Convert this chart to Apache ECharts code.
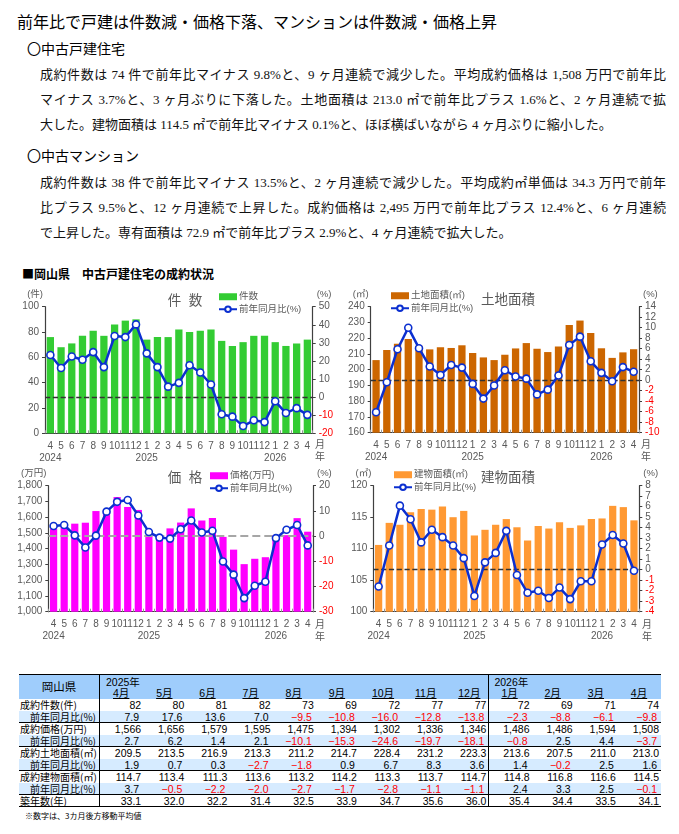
<!DOCTYPE html>
<html><head><meta charset="utf-8">
<script src="https://cdn.jsdelivr.net/npm/echarts@6/dist/echarts.min.js"></script>
<style>
html,body{margin:0;padding:0;background:#fff;}
body{width:679px;height:834px;position:relative;overflow:hidden;font-family:"Noto Sans CJK JP",sans-serif;color:#000;}
.abs{position:absolute;}
.h1{left:17px;top:9px;font-size:16px;white-space:nowrap;}
.h2{font-size:14px;white-space:nowrap;}
.p{left:40px;width:626px;font-family:"Liberation Serif","Noto Sans CJK JP",serif;font-size:13px;line-height:25px;color:#111;}
.p div{white-space:nowrap;}
.p .j{text-align:justify;text-align-last:justify;white-space:normal;height:25px;overflow:hidden;}
.sec{left:22px;top:265px;font-size:12px;font-weight:bold;white-space:nowrap;}
#chart{position:absolute;left:0;top:285px;width:679px;height:372px;}
#tbl{position:absolute;left:19px;top:674px;width:642px;font-family:"Liberation Sans","Noto Sans CJK JP",sans-serif;font-size:10.5px;}
.row{position:relative;height:12px;line-height:12px;box-sizing:border-box;}
.cell{position:absolute;top:0;height:12px;box-sizing:border-box;text-align:right;white-space:nowrap;}
.neg{color:#ff0000;}
.note{left:25px;top:810px;font-size:8px;white-space:nowrap;}
</style></head>
<body>
<div class="abs h1">前年比で戸建は件数減・価格下落、マンションは件数減・価格上昇</div>
<div class="abs h2" style="left:27px;top:38px;">〇中古戸建住宅</div>
<div class="abs p" style="top:62px;">
<div class="j">成約件数は 74 件で前年比マイナス 9.8%と、9 ヶ月連続で減少した。平均成約価格は 1,508 万円で前年比</div>
<div class="j">マイナス 3.7%と、3 ヶ月ぶりに下落した。土地面積は 213.0 ㎡で前年比プラス 1.6%と、2 ヶ月連続で拡</div>
<div>大した。建物面積は 114.5 ㎡で前年比マイナス 0.1%と、ほぼ横ばいながら 4 ヶ月ぶりに縮小した。</div>
</div>
<div class="abs h2" style="left:27px;top:145px;">〇中古マンション</div>
<div class="abs p" style="top:170px;">
<div class="j">成約件数は 38 件で前年比マイナス 13.5%と、2 ヶ月連続で減少した。平均成約㎡単価は 34.3 万円で前年</div>
<div class="j">比プラス 9.5%と、12 ヶ月連続で上昇した。成約価格は 2,495 万円で前年比プラス 12.4%と、6 ヶ月連続</div>
<div>で上昇した。専有面積は 72.9 ㎡で前年比プラス 2.9%と、4 ヶ月連続で拡大した。</div>
</div>
<div class="abs sec">■岡山県　中古戸建住宅の成約状況</div>
<div id="chart"></div>
<div id="tbl"></div>
<div class="abs note">※数字は、3カ月後方移動平均値</div>
<script>
// ---- data ----
const months = ['4','5','6','7','8','9','10','11','12','1','2','3','4','5','6','7','8','9','10','11','12','1','2','3','4'];
const yearLabels = ['2024','','','','','','','','','2025','','','','','','','','','','','','2026','','',''];
const countVals = [76,68,71,77,81,77,86,89,90,74,76,76,82,80,81,82,73,69,72,77,77,72,69,71,74];
const countYoY = [23.3,16.1,22.5,20.7,24.9,16.6,33.8,33.2,40.2,24.2,16.6,5.8,7.9,17.6,13.6,7.0,-9.5,-10.8,-16.0,-12.8,-13.8,-2.3,-8.8,-6.1,-9.8];
const landVals = [206.1,212.5,216.5,219.5,215.2,212.9,214.2,213.8,215.5,210.6,207.8,206.1,209.5,213.5,216.9,213.3,211.2,214.7,228.4,231.2,223.3,213.6,207.5,211.0,213.0];
const landYoY = [-6.1,-0.4,5.9,10.0,6.1,2.6,1.0,2.9,2.4,-0.7,-3.5,-1.0,1.9,0.7,0.3,-2.7,-1.8,0.9,6.7,8.3,3.6,1.4,-0.2,2.5,1.6];
const priceVals = [1525,1542,1559,1565,1639,1650,1728,1665,1646,1487,1457,1529,1566,1656,1579,1595,1475,1394,1302,1336,1346,1486,1486,1594,1508];
const priceYoY = [4.0,4.4,0.3,-4.5,0.2,9.7,13.6,14.3,8.2,1.6,-0.6,-1.0,2.7,6.2,1.4,2.1,-10.1,-15.3,-24.6,-19.7,-18.1,-0.8,2.5,4.4,-3.7];
const bldgVals = [110.6,114.1,113.8,115.8,116.3,116.2,116.7,115.0,116.0,112.1,113.0,113.8,114.7,113.4,111.3,113.6,113.2,114.2,113.3,113.7,114.7,114.8,116.8,116.6,114.5];
const bldgYoY = [-1.6,2.3,6.1,4.8,2.6,3.8,3.1,2.3,1.1,-2.5,0.7,1.6,3.7,-0.5,-2.2,-2.0,-2.7,-1.7,-2.8,-1.1,-1.1,2.4,3.3,2.5,-0.1];
const ageVals = [33.1,32.0,32.2,31.4,32.5,33.9,34.7,35.6,36.0,35.4,34.4,33.5,34.1];
const tableMonths = ['4月','5月','6月','7月','8月','9月','10月','11月','12月','1月','2月','3月','4月'];

// ---- chart ----
const GRAY = '#595959', AX = '#404040', BLUE = '#0b2fd0';
const FONT = '"Liberation Sans","Noto Sans CJK JP",sans-serif';
const cfgs = [
  {grid:{left:45,top:21.7,width:267.7,height:126.6}, bar:countVals, yoy:countYoY, color:'#33cc33', barLabel:'件数',
   title:'件  数', tx:180, ty:5, lx:213, ly:2, mx:310, my:149, lmin:0,lmax:100,lint:20, rmin:-20,rmax:50,rint:10, unit:'(件)', zero:'#333', zw:1.3, fmt:v=>String(v)},
  {grid:{left:370.7,top:21.7,width:268.3,height:126}, bar:landVals, yoy:landYoY, color:'#cc6600', barLabel:'土地面積(㎡)',
   title:'土地面積', tx:503, ty:4, lx:385, ly:1, mx:636, my:149, lmin:160,lmax:240,lint:10, rmin:-10,rmax:14,rint:2, unit:'(㎡)', zero:'#333', zw:1.3, fmt:v=>String(v)},
  {grid:{left:48.3,top:200.7,width:264.7,height:126}, bar:priceVals, yoy:priceYoY, color:'#ff00ff', barLabel:'価格(万円)',
   title:'価  格', tx:180, ty:182, lx:204, ly:181, mx:310, my:329, lmin:1000,lmax:1800,lint:100, rmin:-30,rmax:20,rint:10, unit:'(万円)', zero:'#a6a6a6', zw:2, fmt:v=>v.toLocaleString('en-US')},
  {grid:{left:373.3,top:200.7,width:266,height:126}, bar:bldgVals, yoy:bldgYoY, color:'#ff9933', barLabel:'建物面積(㎡)',
   title:'建物面積', tx:503, ty:182, lx:388, ly:180, mx:637, my:329, lmin:100,lmax:120,lint:5, rmin:-4,rmax:8,rint:1, unit:'(㎡)', zero:'#333', zw:1.3, fmt:v=>String(v)}
];
const opt = {animation:false, textStyle:{fontFamily:FONT}, grid:[], xAxis:[], yAxis:[], series:[], title:[], legend:[]};
cfgs.forEach((c,i)=>{
  opt.grid.push(Object.assign({containLabel:false}, c.grid));
  opt.title.push({text:c.title, left:c.tx, top:c.ty, textAlign:'center', textStyle:{fontSize:13.5, fontWeight:'normal', color:GRAY, fontFamily:FONT}});
  opt.title.push({text:'月\n年', left:c.mx, top:c.my, textStyle:{fontSize:10, fontWeight:'normal', color:GRAY, lineHeight:12, fontFamily:FONT}});
  const barName='bar'+i, lineName='yoy'+i;
  opt.legend.push({left:c.lx, top:c.ly, orient:'vertical', itemWidth:18, itemHeight:7, itemGap:3, selectedMode:false,
    textStyle:{fontSize:9.5, color:GRAY, padding:[0,0,0,-3]},
    data:[{name:barName, icon:'rect'},{name:lineName}],
    formatter:n=> n===barName ? c.barLabel : '前年同月比(%)'});
  opt.xAxis.push({type:'category', gridIndex:i, data:months,
    axisLine:{onZero:false, lineStyle:{color:AX, width:1.2}}, axisTick:{show:true, inside:true, length:3, lineStyle:{color:'#999'}},
    axisLabel:{interval:0, fontSize:10, color:GRAY, margin:7, lineHeight:12, formatter:(v,idx)=> yearLabels[idx] ? v+'\n'+yearLabels[idx] : v}});
  opt.yAxis.push({type:'value', gridIndex:i, position:'left', min:c.lmin, max:c.lmax, interval:c.lint,
    axisLine:{show:true, onZero:false, lineStyle:{color:AX, width:1.2}}, axisTick:{show:true, length:3, lineStyle:{color:AX}}, splitLine:{show:false},
    axisLabel:{fontSize:10, color:GRAY, margin:6, formatter:c.fmt},
    name:c.unit, nameLocation:'end', nameGap:8, nameMoveOverlap:false, nameTextStyle:{fontSize:9.5, color:GRAY, align:'right', padding:[0,2,0,0]}});
  opt.yAxis.push({type:'value', gridIndex:i, position:'right', min:c.rmin, max:c.rmax, interval:c.rint,
    axisLine:{show:true, onZero:false, lineStyle:{color:AX, width:1.2}}, axisTick:{show:true, length:3, lineStyle:{color:AX}}, splitLine:{show:false},
    axisLabel:{fontSize:10, margin:6, color:(v)=> (Number(v)<0 ? '#ff0000' : GRAY)},
    name:'(%)', nameLocation:'end', nameGap:8, nameMoveOverlap:false, nameTextStyle:{fontSize:9.5, color:GRAY, align:'left', padding:[0,0,0,4]}});
  opt.series.push({type:'bar', name:barName, xAxisIndex:i, yAxisIndex:2*i, data:c.bar, barWidth:'68%', itemStyle:{color:c.color}});
  opt.series.push({type:'line', name:lineName, xAxisIndex:i, yAxisIndex:2*i+1, data:c.yoy, symbol:'circle', symbolSize:7, z:5,
    lineStyle:{color:BLUE, width:2.5}, itemStyle:{color:'#fff', borderColor:BLUE, borderWidth:1.6},
    markLine:{silent:true, symbol:'none', label:{show:false}, lineStyle:{color:c.zero, type:'dashed', width:c.zw}, data:[{yAxis:0}]}});
});
const chart = echarts.init(document.getElementById('chart'), null, {renderer:'canvas'});
chart.setOption(opt);

// ---- table ----
const n = 13, start = 12;
const fmtInt = v=>String(v);
const fmtComma = v=>v.toLocaleString('en-US');
const fmt1 = v=>v.toFixed(1);
const fmtPct = v=> v<0 ? '−'+Math.abs(v).toFixed(1) : v.toFixed(1);
const rows = [
  {label:'成約件数(件)', vals:countVals.slice(start), f:fmtInt},
  {label:'前年同月比(%)', vals:countYoY.slice(start), f:fmtPct, sub:true, line:true},
  {label:'成約価格(万円)', vals:priceVals.slice(start), f:fmtComma},
  {label:'前年同月比(%)', vals:priceYoY.slice(start), f:fmtPct, sub:true, line:true},
  {label:'成約土地面積(㎡)', vals:landVals.slice(start), f:fmt1},
  {label:'前年同月比(%)', vals:landYoY.slice(start), f:fmtPct, sub:true, line:true},
  {label:'成約建物面積(㎡)', vals:bldgVals.slice(start), f:fmt1},
  {label:'前年同月比(%)', vals:bldgYoY.slice(start), f:fmtPct, sub:true, line:true},
  {label:'築年数(年)', vals:ageVals, f:fmt1, line:true}
];
const colW = (642-81)/n;
const tbl = document.getElementById('tbl');
let html = '';
html += '<div class="row" style="height:25px;background:#9fcdfc;border-top:1.5px solid #000;">';
html += '<div class="cell" style="left:0;width:81px;height:25px;line-height:23px;text-align:center;font-size:11.5px;font-family:\'Noto Sans CJK JP\';border-right:1px solid #000;">岡山県</div>';
html += '<div class="cell" style="left:87px;top:1px;text-align:left;font-size:10.5px;">2025年</div>';
html += '<div class="cell" style="left:'+(81+9*colW+6)+'px;top:1px;text-align:left;font-size:10.5px;">2026年</div>';
html += '<div class="cell" style="left:'+(81+9*colW)+'px;width:1px;height:25px;background:#000;top:-1px"></div>';
tableMonths.forEach((m,k)=>{
  html += '<div class="cell" style="left:'+(81+k*colW+13)+'px;top:12px;text-align:left;text-decoration:underline;font-size:10.5px;">'+m+'</div>';
});
html += '</div>';
rows.forEach((r,ri)=>{
  const bg = r.sub ? '#d6ebff' : '#fff';
  html += '<div class="row" style="background:'+bg+';'+(r.line?'border-bottom:1px solid #000;':'')+'">';
  html += '<div class="cell" style="left:0;width:81px;border-right:1px solid #000;'+(r.sub?'text-align:right;padding-right:3px;':'text-align:left;padding-left:1px;')+'font-family:\'Noto Sans CJK JP\';font-size:10px;">'+r.label+'</div>';
  html += '<div class="cell" style="left:'+(81+9*colW)+'px;width:1px;background:#000;"></div>';
  r.vals.forEach((v,k)=>{
    const cls = (r.sub && v<0) ? 'neg' : '';
    html += '<div class="cell '+cls+'" style="left:'+(81+k*colW)+'px;width:'+colW+'px;padding-right:'+(r.sub?4:2)+'px;">'+r.f(v)+'</div>';
  });
  html += '</div>';
});
tbl.innerHTML = html;
</script>
</body></html>
